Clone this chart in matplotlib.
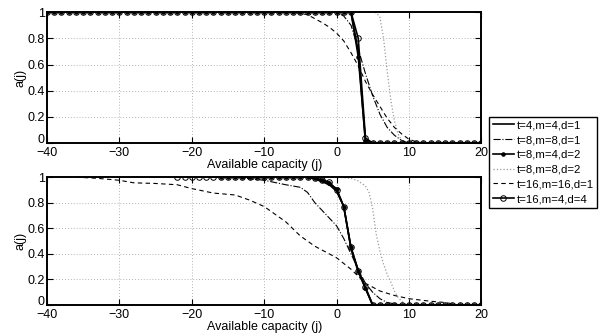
import numpy as np
import matplotlib
matplotlib.use("Agg")
import matplotlib.pyplot as plt
import matplotlib.transforms as mtransforms

plt.rcParams['font.family'] = ['Liberation Sans', 'DejaVu Sans']

labels = ["t=4,m=4,d=1", "t=8,m=8,d=1", "t=8,m=4,d=2",
          "t=8,m=8,d=2", "t=16,m=16,d=1", "t=16,m=4,d=4"]

# ---------------- top panel data ----------------
top_int_x = list(range(-40, 21))
# t=4,m=4,d=1 (top)
top_t4_x = [-40, 2, 3, 4, 20]
top_t4_y = [1.0, 1.0, 0.70, 0.0, 0.0]
# t=8,m=8,d=1 (top, dash-dot)
top_t8m8d1_x = [-40, 0, 1, 2, 3, 4, 5, 6, 7, 8, 9, 10, 20]
top_t8m8d1_y = [1.0, 1.0, 0.97, 0.90, 0.72, 0.53, 0.36, 0.22, 0.12, 0.06, 0.02, 0.0, 0.0]
# t=8,m=4,d=2 (top, dots)
top_t8m4d2_y = [1.0] * 43 + [0.66, 0.02] + [0.0] * 16
# t=8,m=8,d=2 (top, dotted)
top_t8m8d2_x = [-40, 5, 5.5, 6, 6.5, 7, 7.5, 8, 8.5, 9, 9.5, 10, 20]
top_t8m8d2_y = [1.0, 1.0, 0.995, 0.96, 0.80, 0.55, 0.33, 0.17, 0.07, 0.02, 0.005, 0.0, 0.0]
# t=16,m=16,d=1 (top, dashed)
top_t16m16_x = [-40, -6, -5, -4, -3, -2, -1, 0, 1, 2, 3, 4, 5, 6, 7, 8, 9, 10, 11, 12, 20]
top_t16m16_y = [1.0, 1.0, 0.99, 0.98, 0.95, 0.92, 0.885, 0.84, 0.78, 0.69, 0.59, 0.47,
                0.37, 0.28, 0.19, 0.12, 0.07, 0.03, 0.01, 0.0, 0.0]
# t=16,m=4,d=4 (top, circles)
top_t16m4d4_y = [1.0] * 43 + [0.80, 0.04] + [0.0] * 16

# ---------------- bottom panel data ----------------
bot_t4_x = list(range(-10, 21))
bot_t4_y = [1.0] * 7 + [0.985, 0.965, 0.94, 0.89, 0.77, 0.44, 0.26, 0.13] + [0.0] * 16
bot_t8m8d1_x = [-14, -10, -7, -5, -4, -3, -2, -1, 0, 1, 2, 3, 4, 5, 6, 7, 8, 9, 20]
bot_t8m8d1_y = [1.0, 0.975, 0.94, 0.92, 0.88, 0.80, 0.74, 0.68, 0.62, 0.52, 0.40, 0.28,
                0.17, 0.10, 0.05, 0.02, 0.01, 0.0, 0.0]
bot_t8m4d2_x = list(range(-16, 21))
bot_t8m4d2_y = [1.0] * 13 + [0.99, 0.975, 0.95, 0.91, 0.77, 0.45, 0.27, 0.13] + [0.0] * 16
bot_t8m8d2_x = [-14, 0, 1, 2, 3, 4, 4.5, 5, 5.5, 6, 6.5, 7, 7.5, 8, 8.5, 9, 9.5, 10, 20]
bot_t8m8d2_y = [1.0, 1.0, 0.995, 0.99, 0.97, 0.93, 0.88, 0.75, 0.55, 0.42, 0.32, 0.24,
                0.18, 0.11, 0.06, 0.03, 0.01, 0.0, 0.0]
bot_t16m16_x = [-36, -33, -30, -28, -25, -22, -20, -17, -14, -12, -10, -7, -5, -3, -1,
                0, 2, 4, 6, 8, 10, 13, 15, 17, 20]
bot_t16m16_y = [1.0, 0.99, 0.975, 0.955, 0.95, 0.94, 0.91, 0.875, 0.86, 0.82, 0.77, 0.65,
                0.54, 0.46, 0.40, 0.37, 0.28, 0.17, 0.11, 0.075, 0.05, 0.03, 0.02, 0.0, 0.0]
bot_t16m4d4_x = list(range(-22, 21))
bot_t16m4d4_y = [1.0] * 19 + [0.99, 0.98, 0.96, 0.90, 0.77, 0.45, 0.27, 0.14] + [0.0] * 16

xticks = [-40, -30, -20, -10, 0, 10, 20]
yticks = [0, 0.2, 0.4, 0.6, 0.8, 1]
ytick_labels = ["0", "0.2", "0.4", "0.6", "0.8", "1"]
xlabel = "Available capacity (j)"
ylabel = "a(j)"

fig = plt.figure(figsize=(6.10, 3.36), dpi=100)
ax1 = fig.add_axes([0.077, 0.574, 0.712, 0.390])
ax2 = fig.add_axes([0.077, 0.092, 0.712, 0.381])

solid_kw = dict(color='black', lw=1.2)
gray = '#9a9a9a'

def style(ax):
    ax.set_xlim(-40, 20)
    ax.set_ylim(0, 1)
    ax.set_xticks(xticks)
    ax.set_yticks(yticks)
    ax.set_yticklabels(ytick_labels)
    ax.tick_params(direction='in', top=True, right=True, length=4, width=0.8,
                   labelsize=9, pad=1.5)
    ax.tick_params(axis='x', pad=2.5)
    for s in ax.spines.values():
        s.set_linewidth(1.4)
    ax.grid(True, linestyle=(0, (1, 2.5)), color='#999999', lw=0.6)
    ax.set_axisbelow(True)
    ax.set_xlabel(xlabel, fontsize=9, labelpad=0)
    ax.set_ylabel(ylabel, fontsize=9, labelpad=1)
    # lift the "0" y label slightly, as in the reference
    lbl = ax.get_yticklabels()[0]
    lbl.set_transform(lbl.get_transform() +
                      mtransforms.ScaledTranslation(0, 3 / 72, fig.dpi_scale_trans))

circ_kw = dict(marker='o', ms=4, mfc='none', mew=0.7)
dot_kw = dict(marker='.', ms=4.5)

# top
ax1.plot(top_t4_x, top_t4_y, '-', label=labels[0], **solid_kw)
ax1.plot(top_t8m8d1_x, top_t8m8d1_y, '-.', color='black', lw=0.8, label=labels[1])
ax1.plot(top_int_x, top_t8m4d2_y, '-', label=labels[2], **dot_kw, **solid_kw)
ax1.plot(top_t8m8d2_x, top_t8m8d2_y, ':', color=gray, lw=0.9, label=labels[3])
ax1.plot(top_t16m16_x, top_t16m16_y, '--', color='black', lw=0.8, dashes=(4, 3), label=labels[4])
ax1.plot(top_int_x, top_t16m4d4_y, '-', label=labels[5], **circ_kw, **solid_kw)
style(ax1)

# bottom
ax2.plot(bot_t4_x, bot_t4_y, '-', **solid_kw)
ax2.plot(bot_t8m8d1_x, bot_t8m8d1_y, '-.', color='black', lw=0.8)
ax2.plot(bot_t8m4d2_x, bot_t8m4d2_y, '-', **dot_kw, **solid_kw)
ax2.plot(bot_t8m8d2_x, bot_t8m8d2_y, ':', color=gray, lw=0.9)
ax2.plot(bot_t16m16_x, bot_t16m16_y, '--', color='black', lw=0.8, dashes=(4, 3))
ax2.plot(bot_t16m4d4_x, bot_t16m4d4_y, '-', **circ_kw, **solid_kw)
style(ax2)

leg = fig.legend(*ax1.get_legend_handles_labels(), loc='upper left',
                 bbox_to_anchor=(0.802, 0.652), borderaxespad=0, fontsize=8.2,
                 frameon=True, fancybox=False, edgecolor='black', framealpha=1,
                 handlelength=1.9, handletextpad=0.2, labelspacing=0.42,
                 borderpad=0.3)
leg.get_frame().set_linewidth(1.0)

fig.savefig("out.png", dpi=100)
